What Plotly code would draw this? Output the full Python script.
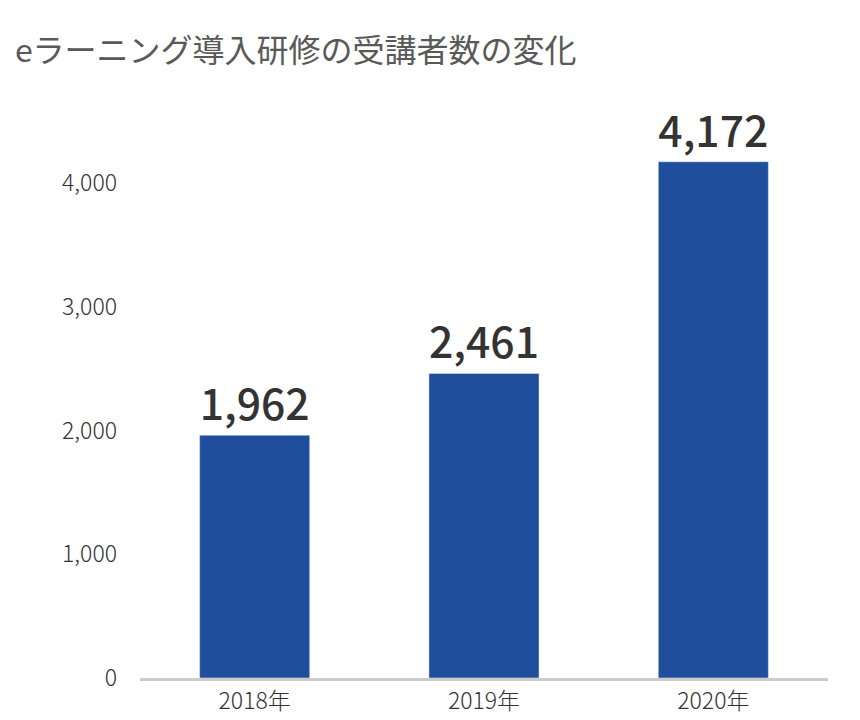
import plotly.graph_objects as go

years = ["2018年", "2019年", "2020年"]
counts = [1962, 2461, 4172]
count_labels = ["1,962", "2,461", "4,172"]

fig = go.Figure(go.Bar(
    x=years, y=counts,
    marker_color="#1f4e9c",
    text=count_labels, textposition="outside",
    textfont=dict(size=46, color="#333333", family="Noto Sans CJK JP", weight=500),
    cliponaxis=False,
))

fig.update_layout(
    width=860, height=720,
    margin=dict(l=132, r=40, t=100, b=42),
    paper_bgcolor="white", plot_bgcolor="white",
    bargap=0.52,
    showlegend=False,
    font=dict(family="Noto Sans CJK JP", color="#333333"),
    title=dict(text="eラーニング導入研修の受講者数の変化", x=0.008, xanchor="left",
               y=0.94, yanchor="middle",
               font=dict(size=32, color="#595959")),
    xaxis=dict(showline=True, linecolor="#cccccc", linewidth=3,
               tickfont=dict(size=23, color="#333333", weight=300), ticks=""),
    yaxis=dict(range=[0, 4606], tickvals=[0, 1000, 2000, 3000, 4000],
               ticktext=["0", "1,000", "2,000", "3,000", "4,000"],
               showgrid=False, zeroline=False, ticks="",
               tickfont=dict(size=23, color="#333333", weight=300), ticklabelstandoff=22),
)

fig.write_html("out.html")
